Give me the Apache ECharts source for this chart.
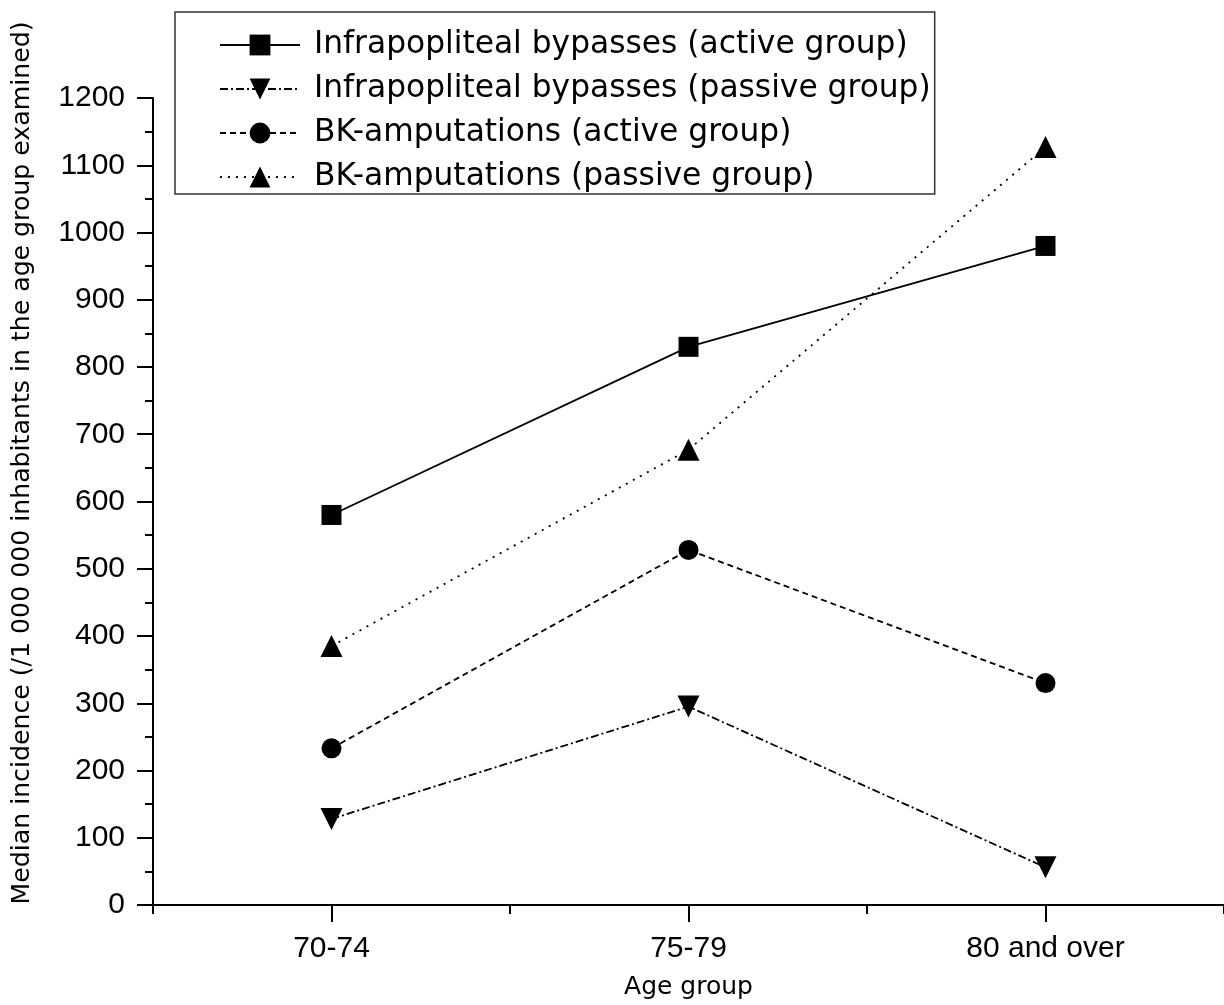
<!DOCTYPE html>
<html>
<head>
<meta charset="utf-8">
<script src="https://cdn.jsdelivr.net/npm/echarts@6/dist/echarts.min.js"></script>
<style>html,body{margin:0;padding:0;background:#fff}#c{width:1224px;height:1005px}</style>
</head>
<body>
<div id="c"></div>
<script>
const categories = ['70-74', '75-79', '80 and over'];
const seriesNames = [
  'Infrapopliteal bypasses (active group)',
  'Infrapopliteal bypasses (passive group)',
  'BK-amputations (active group)',
  'BK-amputations (passive group)'
];
const bypassActive = [580, 830, 980];
const bypassPassive = [128, 295, 56];
const bkActive = [233, 528, 330];
const bkPassive = [385, 677, 1127];
const yTicks = [0, 1200, 100];
const xTitle = 'Age group';
const yTitle = 'Median incidence (/1 000 000 inhabitants in the age group examined)';

const chart = echarts.init(document.getElementById('c'), null, {renderer: 'canvas'});
const lab = 'Liberation Sans';
const wide = 'DejaVu Sans';
function mk(name, data, symbol, size, dash) {
  return {
    name: name, type: 'line', data: data, symbol: symbol, symbolSize: size,
    itemStyle: {color: '#000'},
    lineStyle: {color: '#000', width: 1.8, type: dash},
    emphasis: {disabled: true}, animation: false
  };
}
chart.setOption({
  animation: false,
  backgroundColor: '#fff',
  grid: {left: 153, right: 0, top: 98, bottom: 98, containLabel: false},
  legend: {
    orient: 'vertical', left: 175, top: 12,
    padding: [17, 4, 1, 44],
    borderColor: '#333', borderWidth: 1.5,
    itemWidth: 80, itemHeight: 26, itemGap: 12,
    textStyle: {fontFamily: wide, fontSize: 31.3, lineHeight: 32, color: '#000', padding: [0, 0, 0, 9]},
    data: seriesNames
  },
  xAxis: [{
    type: 'category', data: categories, boundaryGap: true,
    axisLine: {lineStyle: {color: '#000', width: 2}},
    axisTick: {show: true, alignWithLabel: true, length: 17, lineStyle: {color: '#000', width: 2}},
    axisLabel: {fontFamily: lab, fontSize: 30, color: '#000', margin: 29},
    name: xTitle, nameLocation: 'middle', nameGap: 70,
    nameTextStyle: {fontFamily: wide, fontSize: 25, color: '#000'}
  }, {
    type: 'category', data: categories, boundaryGap: true, position: 'bottom',
    axisLine: {show: false},
    axisTick: {show: true, length: 9, lineStyle: {color: '#000', width: 2}},
    axisLabel: {show: false}
  }],
  yAxis: {
    type: 'value', min: yTicks[0], max: yTicks[1], interval: yTicks[2],
    axisLine: {show: true, lineStyle: {color: '#000', width: 2}},
    axisTick: {show: true, length: 16, lineStyle: {color: '#000', width: 2}},
    minorTick: {show: true, splitNumber: 2, length: 8, lineStyle: {color: '#000', width: 2}},
    splitLine: {show: false},
    axisLabel: {fontFamily: lab, fontSize: 30, color: '#000', margin: 28, formatter: function (v) { return String(v); }}
  },
  graphic: [{
    type: 'text', x: 22, y: 463, rotation: Math.PI / 2,
    style: {text: yTitle, fontFamily: wide, fontSize: 25.2, fill: '#000', align: 'center', verticalAlign: 'middle'}
  }],
  series: [
    mk(seriesNames[0], bypassActive, 'rect', 20, 'solid'),
    mk(seriesNames[1], bypassPassive, 'path://M0,0 L10,0 L5,9 Z', 22, [8, 3, 2, 3]),
    mk(seriesNames[2], bkActive, 'circle', 20, [6, 4]),
    mk(seriesNames[3], bkPassive, 'triangle', 22, [2, 6])
  ]
});
</script>
</body>
</html>
